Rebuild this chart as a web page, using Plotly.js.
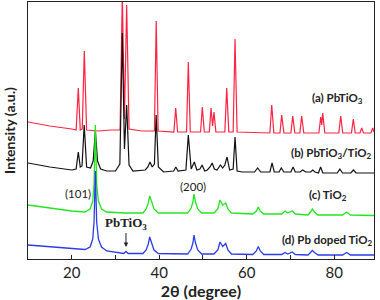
<!DOCTYPE html>
<html>
<head>
<meta charset="utf-8">
<script src="https://cdn.plot.ly/plotly-3.0.1.min.js"></script>
<style>html,body{margin:0;padding:0;background:#fff;}#chart{width:380px;height:300px;}</style>
</head>
<body>
<div id="chart"></div>
<script>
// (a) PbTiO3
const redX = [10, 15, 20, 21.0, 21.5, 21.95, 22.4, 22.87, 23.4, 26, 29, 31.05, 31.56, 32.05, 32.56, 33.1, 36, 38.9, 39.31, 39.75, 43.35, 43.77, 44.2, 46.25, 46.65, 47.1, 49.45, 49.85, 50.3, 51.45, 51.84, 52.2, 52.52, 52.95, 55.0, 55.43, 55.9, 56.9, 57.33, 57.8, 65.3, 65.72, 66.2, 67.6, 68.0, 68.5, 70.1, 70.52, 71.0, 72.15, 72.57, 73.05, 76.5, 76.92, 77.15, 77.38, 77.85, 81.05, 81.49, 81.95, 83.95, 84.37, 84.8, 85.9, 86.29, 86.7, 88.4, 88.81, 89.1];
const redY = [137, 133, 130, 129, 171, 129, 130, 208, 129, 128, 129, 129, 265, 140, 254, 130, 128, 128, 238, 128, 127, 151, 127, 127, 197, 127, 127, 152, 127, 127, 151, 133, 147, 127, 127, 171, 127, 127, 220, 127, 126, 154, 126, 126, 144, 126, 126, 143, 126, 126, 143, 126, 126, 142, 134, 146, 126, 126, 143, 126, 126, 140, 126, 126, 131, 126, 126, 131, 127];

// (b) PbTiO3/TiO2
const blackX = [10, 15, 20, 21.0, 21.5, 21.95, 22.35, 22.85, 23.4, 24.3, 24.9, 25.4, 25.9, 26.6, 28, 30, 31.0, 31.56, 32.05, 32.56, 33.1, 34, 36.8, 37.4, 37.9, 38.4, 38.9, 39.3, 39.8, 41, 43.3, 43.8, 44.3, 46.1, 46.65, 47.3, 48.02, 48.6, 49.3, 49.8, 50.4, 51.0, 51.6, 52.1, 52.6, 53.2, 54.0, 54.5, 55.0, 55.5, 56.1, 56.9, 57.33, 57.8, 59, 61.8, 62.5, 63.2, 65.3, 65.8, 66.3, 67.4, 67.9, 68.5, 70.1, 70.6, 71.1, 72.2, 72.8, 73.5, 74.6, 75.1, 75.6, 76.4, 76.9, 77.4, 80.7, 81.3, 81.9, 83.8, 84.4, 85, 89.1];
const blackY = [96, 92, 89, 90, 107, 92, 93, 134, 92, 91, 98, 128, 98, 90, 88, 88, 95, 226, 110, 154, 94, 88, 89, 92, 97, 92, 95, 144, 92, 87, 88, 92, 88, 89, 124, 90, 97, 89, 90, 94, 88, 89, 92, 96, 90, 89, 94, 91, 94, 102, 89, 90, 122, 88, 87, 87, 91, 87, 87, 96, 87, 87, 91, 87, 87, 92, 87, 87, 89, 87, 87, 89, 87, 86, 92, 86, 86, 90, 86, 86, 89, 86, 86];

// (c) TiO2
const greenX = [10, 15, 20, 23, 24.2, 24.8, 25.1, 25.4, 25.7, 26.1, 26.8, 28, 32, 36.3, 37.0, 37.5, 37.82, 38.3, 38.8, 39.8, 46.5, 47.3, 47.7, 47.95, 48.3, 48.8, 49.7, 52.5, 53.4, 53.9, 54.5, 55.2, 55.7, 56.5, 61.4, 62.2, 62.65, 63.1, 63.9, 68.0, 68.76, 69.4, 70.42, 71.1, 74.0, 74.6, 75.0, 75.5, 76.3, 81.9, 82.86, 83.7, 89.1];
const greenY = [54, 51, 48, 47, 50, 58, 75, 134, 75, 58, 50, 47, 46, 46, 50, 56, 63, 57, 50, 46, 46, 51, 57, 65, 57, 50, 46, 46, 50, 59, 54, 56, 50, 46, 45, 48, 52, 48, 45, 45, 48, 46, 48, 45, 44, 47, 50, 47, 44, 44, 47, 44, 43.5];

// (d) Pb doped TiO2
const blueX = [10, 15, 20, 23, 24.2, 24.8, 25.1, 25.4, 25.7, 26.1, 26.8, 28, 31.9, 32.4, 32.9, 36.3, 37.0, 37.5, 37.82, 38.3, 38.8, 39.8, 46.5, 47.3, 47.7, 47.95, 48.3, 48.8, 49.7, 52.5, 53.4, 53.9, 54.5, 55.2, 55.7, 56.5, 61.4, 62.2, 62.65, 63.1, 63.9, 68.0, 68.76, 69.4, 70.42, 71.1, 74.0, 74.6, 75.0, 75.5, 76.3, 81.9, 82.86, 83.7, 89.1];
const blueY = [14, 12, 10.5, 9.5, 12, 20, 37, 88, 37, 20, 12, 8, 5.5, 7.5, 5.5, 5.5, 9, 15, 22, 16, 9, 5.5, 5, 10, 16, 24, 16, 9, 5, 5, 9, 17, 12.5, 15.5, 9, 5, 4.5, 8, 12.5, 8, 4.5, 4.5, 6.5, 5, 7, 4.5, 4, 6.5, 8.5, 6.5, 4, 4, 6.5, 4, 4];

const labelA = '<b>(a) PbTiO<sub>3</sub></b>';
const labelB = '<b>(b) PbTiO<sub>3</sub>/TiO<sub>2</sub></b>';
const labelC = '<b>(c) TiO<sub>2</sub></b>';
const labelD = '<b>(d) Pb doped TiO<sub>2</sub></b>';

const F = 'Lato, "Open Sans", sans-serif';

const traces = [
  {x: redX, y: redY, mode: 'lines', line: {color: '#ff2443', width: 1.2}, name: 'a'},
  {x: blackX, y: blackY, mode: 'lines', line: {color: '#111111', width: 1.2}, name: 'b'},
  {x: greenX, y: greenY, mode: 'lines', line: {color: '#22e61e', width: 1.3}, name: 'c'},
  {x: blueX, y: blueY, mode: 'lines', line: {color: '#2b3de6', width: 1.3}, name: 'd'}
];

const layout = {
  width: 380, height: 300,
  margin: {l: 28, r: 6, t: 2, b: 41},
  showlegend: false,
  paper_bgcolor: '#fff', plot_bgcolor: '#fff',
  font: {family: F, color: '#222'},
  xaxis: {
    range: [10, 89.1], showgrid: false, zeroline: false,
    showline: true, mirror: true, linecolor: '#222', linewidth: 1,
    ticks: 'inside', ticklen: 4, tickcolor: '#222',
    tick0: 0, dtick: 20,
    minor: {dtick: 10, ticks: 'inside', ticklen: 4, tickcolor: '#222', showgrid: false},
    tickfont: {family: F, size: 15, color: '#222'},
    title: {text: '<b>2θ (degree)</b>', font: {family: F, size: 16, color: '#222'}, standoff: 1}
  },
  yaxis: {
    range: [0, 257], showgrid: false, zeroline: false,
    showline: true, mirror: true, linecolor: '#222', linewidth: 1,
    ticks: '', showticklabels: false,
    title: {text: '<b>Intensity (a.u.)</b>', font: {family: F, size: 14, color: '#222'}, standoff: 8}
  },
  annotations: [
    {x: 80.65, y: 161, xref: 'x', yref: 'y', text: labelA, showarrow: false, font: {family: F, size: 11.5, color: '#222'}},
    {x: 79.27, y: 106, xref: 'x', yref: 'y', text: labelB, showarrow: false, font: {family: F, size: 11.5, color: '#222'}},
    {x: 78.6, y: 64, xref: 'x', yref: 'y', text: labelC, showarrow: false, font: {family: F, size: 11.5, color: '#222'}},
    {x: 78.36, y: 19, xref: 'x', yref: 'y', text: labelD, showarrow: false, font: {family: F, size: 11.5, color: '#222'}},
    {x: 21.43, y: 66, xref: 'x', yref: 'y', text: '(101)', showarrow: false, font: {family: F, size: 11.5, color: '#222'}},
    {x: 47.7, y: 73, xref: 'x', yref: 'y', text: '(200)', showarrow: false, font: {family: F, size: 11.5, color: '#222'}},
    {x: 32.4, y: 12, xref: 'x', yref: 'y', text: '<b>PbTiO<sub>3</sub></b>', showarrow: true,
     ax: 0, ay: -24, arrowhead: 2, arrowsize: 0.9, arrowwidth: 1, arrowcolor: '#222',
     font: {family: '"Liberation Serif", "Times New Roman", serif', size: 13, color: '#222'}}
  ]
};

Plotly.newPlot('chart', traces, layout, {staticPlot: true, displayModeBar: false});
</script>
</body>
</html>
